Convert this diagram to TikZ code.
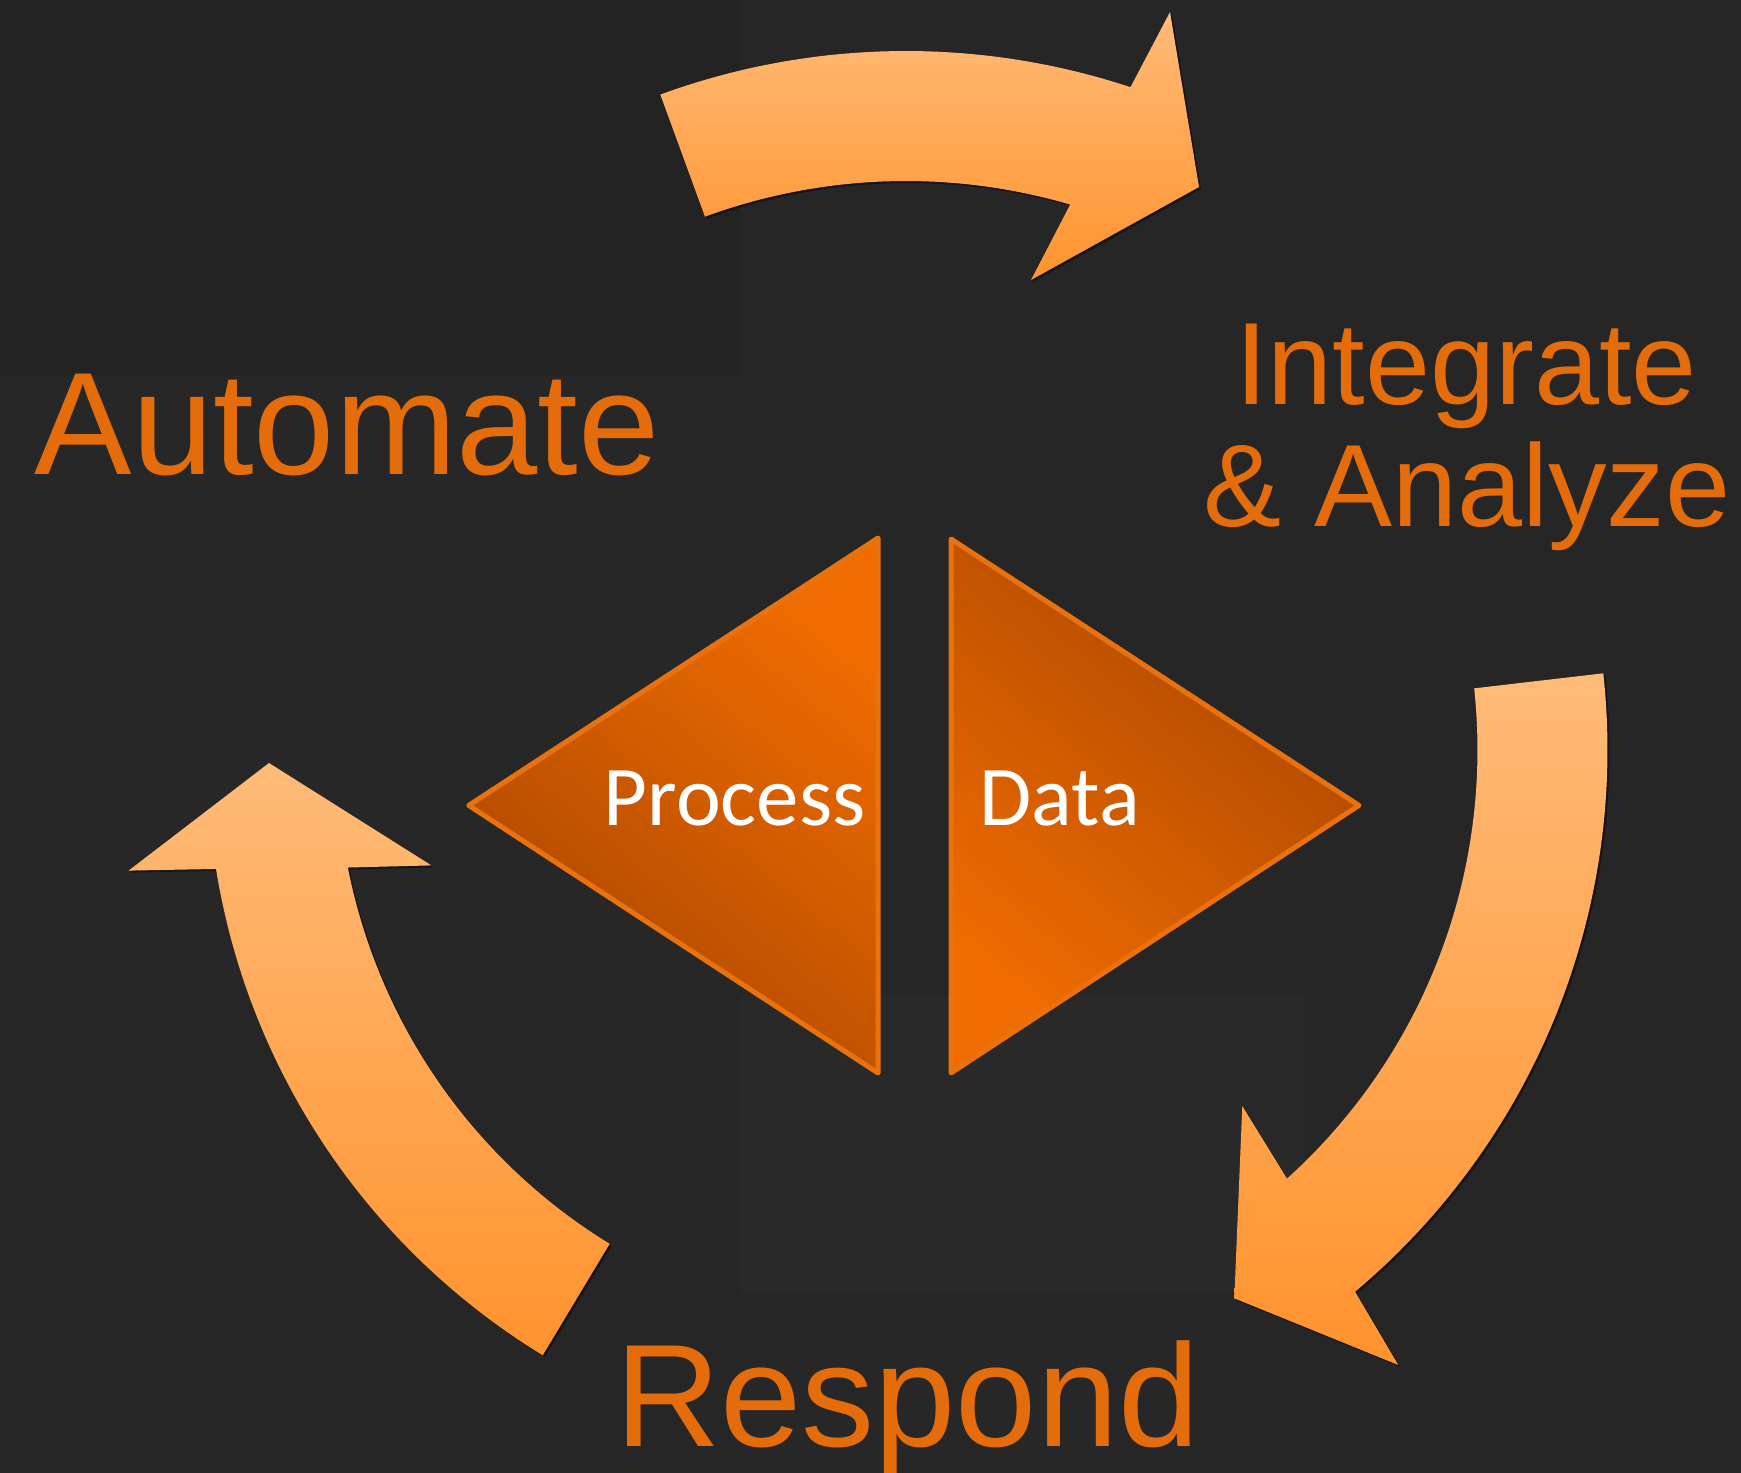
\documentclass[tikz,border=0pt]{standalone}
\usepackage{fontspec}
\setmainfont{Liberation Sans}
\newfontfamily\calibfont{Carlito}
\usetikzlibrary{shadows}
\definecolor{bgbase}{RGB}{38,38,38}
\definecolor{bgdark}{RGB}{35,35,35}
\definecolor{bglight}{RGB}{41,41,41}
\definecolor{bgmid}{RGB}{39,39,39}
\definecolor{labelorange}{RGB}{228,108,10}
\definecolor{arrtop}{RGB}{255,187,120}
\definecolor{arrbot}{RGB}{255,147,45}
\definecolor{tribright}{RGB}{240,108,0}
\definecolor{tridark}{RGB}{170,70,0}
\definecolor{triedge}{RGB}{234,114,14}
\tikzset{
  cyclearrow/.style={draw=none, top color=arrtop, bottom color=arrbot,
    drop shadow={shadow xshift=2pt, shadow yshift=-2pt, opacity=0.45, fill=black}},
  tribox/.style={draw=triedge, line width=5pt, line join=round,
    drop shadow={shadow xshift=2pt, shadow yshift=-2pt, opacity=0.45, fill=black}},
  biglabel/.style={text=labelorange, inner sep=0pt, font=\fontsize{146}{146}\selectfont},
  midlabel/.style={text=labelorange, inner sep=0pt, font=\fontsize{117}{121}\selectfont},
  innerlabel/.style={text=white, inner sep=0pt, font=\calibfont\fontsize{85}{85}\selectfont},
}
\begin{document}
\begin{tikzpicture}[x=1pt,y=-1pt]
\useasboundingbox (0,0) rectangle (1741,1473);
% background with subtle tiles
\fill[bgbase] (0,0) rectangle (1741,1473);
\fill[bgdark] (0,0) rectangle (740,376);
\fill[bgmid] (0,376) rectangle (740,995);
\fill[bglight] (740,995) rectangle (1304,1290);
\fill[bgmid] (740,1290) rectangle (1304,1473);

% top arrow (towards Integrate & Analyze)
\path[cyclearrow] (660.3,94.5)
  -- plot[domain=110.1:71.7, samples=50, variable=\t] ({906+715*cos(\t)},{766-715*sin(\t)})
  -- (1170,12) -- (1199,187) -- (1031,280)
  -- plot[domain=73.7:110.1, samples=50, variable=\t] ({906+585*cos(\t)},{766-585*sin(\t)})
  -- cycle;

% right arrow (towards Respond)
\path[cyclearrow] (1603.3,673.3)
  -- plot[domain=6.22:-49.97, samples=60, variable=\t] ({900+707.5*cos(\t)},{750-707.5*sin(\t)})
  -- (1398.3,1365) -- (1234.3,1298.3) -- (1242.3,1106)
  -- plot[domain=-47.92:6.13, samples=60, variable=\t] ({900+577.5*cos(\t)},{750-577.5*sin(\t)})
  -- cycle;

% left arrow (towards Automate)
\path[cyclearrow] (543.6,1353.8)
  -- plot[domain=238.6:189.19, samples=60, variable=\t] ({908+701*cos(\t)},{757-701*sin(\t)})
  -- (128.6,870.6) -- (269,763) -- (431.4,865.4)
  -- plot[domain=191.16:238.5, samples=60, variable=\t] ({908+571*cos(\t)},{757-571*sin(\t)})
  -- cycle;

% central triangles
\path[tribox, top color=tribright, bottom color=tridark, shading angle=-40]
  (468.75,805.4) -- (878,538) -- (878,1073) -- cycle;
\path[tribox, top color=tridark, bottom color=tribright, shading angle=-40]
  (951,539) -- (1359,805.4) -- (951,1073) -- cycle;

% labels
\node[innerlabel, anchor=base west] (process) at (603.7,825) {Process};
\node[innerlabel, anchor=base west] (data) at (979.3,825) {Data};
\node[biglabel, anchor=base west] (automate) at (34.5,474) {Automate};
\node[biglabel, anchor=base west] (respond) at (615,1446) {Respond};
\node[midlabel, anchor=base] (integrate) at (1466,404.3) {Integrate};
\node[midlabel, anchor=base] (analyze) at (1467,526) {\& Analyze};
\end{tikzpicture}
\end{document}
